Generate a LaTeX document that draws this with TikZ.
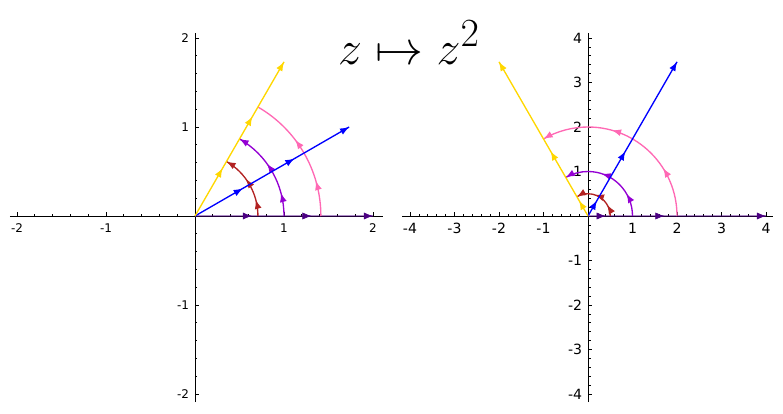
\documentclass[tikz,border=0pt]{standalone}
\usepackage{graphicx}
\usepackage{fontspec}
\newfontfamily\ticksfont{DejaVu Sans}
\usetikzlibrary{arrows.meta,decorations.markings,positioning}
\definecolor{raygold}{RGB}{255,215,0}
\definecolor{rayblue}{RGB}{0,0,255}
\definecolor{arcpink}{RGB}{255,105,180}
\definecolor{arcviolet}{RGB}{148,0,211}
\definecolor{arcred}{RGB}{178,34,34}
\definecolor{axisindigo}{RGB}{75,0,130}
\tikzset{
  curve/.style={line width=0.95pt},
  flow/.style 2 args={postaction={decorate}, decoration={markings,
    mark=at position #1 with {\arrow{Latex[length=6.5pt,width=5pt]}},
    mark=at position #2 with {\arrow{Latex[length=6.5pt,width=5pt]}},
    mark=at position 1 with {\arrow{Latex[length=6.5pt,width=5pt]}}}},
  band/.style={axisindigo, line width=1.4pt, draw opacity=0.45},
  axisline/.style={line width=0.6pt, black},
  tickline/.style={line width=0.5pt, black},
  ticklab/.style={inner sep=0pt, font=\ticksfont\fontsize{8.5}{10}\selectfont},
  bigticklab/.style={inner sep=0pt, font=\ticksfont\fontsize{10}{12}\selectfont},
}

\begin{document}
\begin{tikzpicture}
\path[use as bounding box] (0,0) rectangle (19.575,10.325);

% title
\node[anchor=base] (title) at (10.225,8.72) {\scalebox{1.37}{\Huge $z\mapsto z^2$}};

% left plot: the domain
\begin{scope}[shift={(4.875,4.925)}, scale=2.225]
  \coordinate (lo) at (0,0);
  \draw[axisline] (-2.08,0) -- (2.11,0);
  \draw[axisline] (0,-2.09) -- (0,2.06);
  \foreach \i in {-10,...,10} {
    \draw[tickline] (\i/5,0) -- ++(0,0.028);
    \draw[tickline] (0,\i/5) -- ++(0.028,0);
  }
  \foreach \i in {-2,-1,1,2} {
    \draw[tickline] (\i,0) -- ++(0,0.045);
    \draw[tickline] (0,\i) -- ++(0.045,0);
    \node[ticklab, below=5pt] (lx\i) at (\i,0) {\i};
    \node[ticklab, left=4pt] (ly\i) at (0,\i) {\i};
  }
  \draw[band] (lo) -- (2,0);
  \path[axisindigo, flow={0.32}{0.655}] (lo) -- (2,0);
  \draw[arcred, curve, flow={0.25}{0.6}] (0.7071,0) arc[start angle=0, end angle=60, radius=0.7071];
  \draw[arcviolet, curve, flow={0.25}{0.6}] (1,0) arc[start angle=0, end angle=60, radius=1];
  \draw[arcpink, curve, flow={0.27}{0.62}] (1.4142,0) arc[start angle=0, end angle=60, radius=1.4142];
  \draw[rayblue, curve, flow={0.31}{0.645}] (lo) -- (30:2);
  \draw[raygold, curve, flow={0.31}{0.645}] (lo) -- (60:2);
\end{scope}

% right plot: the image
\begin{scope}[shift={(14.7,4.925)}, scale=1.1125]
  \coordinate (ro) at (0,0);
  \draw[axisline] (-4.17,0) -- (4.15,0);
  \draw[axisline] (0,-4.18) -- (0,4.12);
  \foreach \i in {-20,...,20} {
    \draw[tickline] (\i/5,0) -- ++(0,0.056);
    \draw[tickline] (0,\i/5) -- ++(0.056,0);
  }
  \foreach \i in {-4,-3,-2,-1,1,2,3,4} {
    \draw[tickline] (\i,0) -- ++(0,0.09);
    \draw[tickline] (0,\i) -- ++(0.09,0);
    \node[bigticklab, below=5pt] (rx\i) at (\i,0) {\i};
    \node[bigticklab, left=4pt] (ry\i) at (0,\i) {\i};
  }
  \draw[band] (ro) -- (4,0);
  \path[axisindigo, flow={0.1}{0.43}] (ro) -- (4,0);
  \draw[arcred, curve, flow={0.25}{0.6}] (0.5,0) arc[start angle=0, end angle=120, radius=0.5];
  \draw[arcviolet, curve, flow={0.25}{0.6}] (1,0) arc[start angle=0, end angle=120, radius=1];
  \draw[arcpink, curve, flow={0.27}{0.62}] (2,0) arc[start angle=0, end angle=120, radius=2];
  \draw[rayblue, curve, flow={0.1}{0.42}] (ro) -- (60:4);
  \draw[raygold, curve, flow={0.1}{0.42}] (ro) -- (120:4);
\end{scope}
\end{tikzpicture}
\end{document}
